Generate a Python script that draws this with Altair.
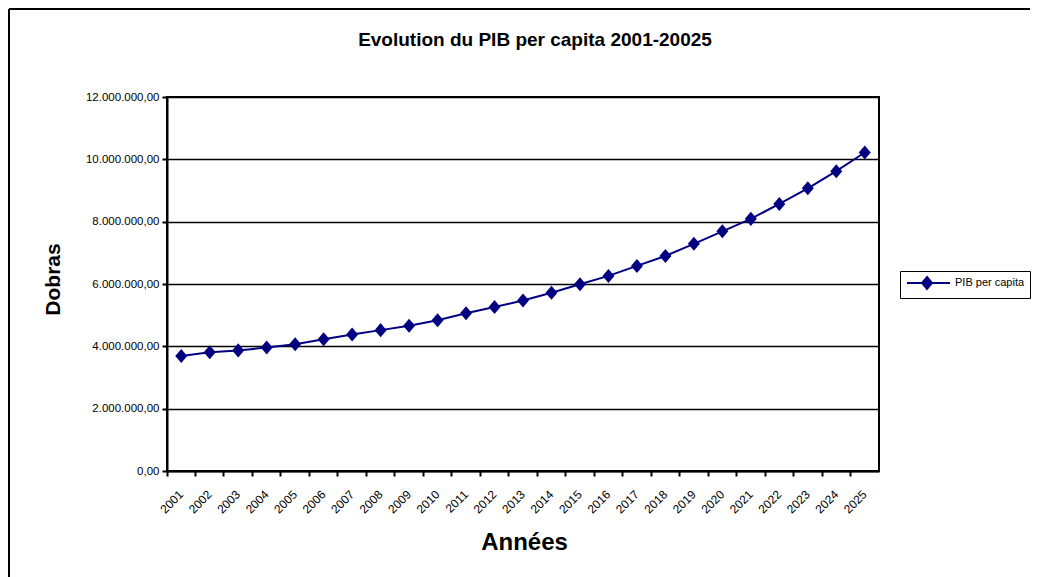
import altair as alt
import pandas as pd

# ---- data ----
years = ["2001", "2002", "2003", "2004", "2005", "2006", "2007", "2008", "2009",
         "2010", "2011", "2012", "2013", "2014", "2015", "2016", "2017", "2018",
         "2019", "2020", "2021", "2022", "2023", "2024", "2025"]
pib = [3690000, 3810000, 3870000, 3960000, 4070000, 4230000, 4380000, 4520000,
       4660000, 4840000, 5060000, 5260000, 5470000, 5720000, 5990000, 6260000,
       6580000, 6900000, 7290000, 7690000, 8090000, 8570000, 9070000, 9620000,
       10220000]
y_ticks = [0, 2000000, 4000000, 6000000, 8000000, 10000000, 12000000]
series_name = "PIB per capita"
chart_title = "Evolution du PIB per capita 2001-20025"
x_title = "Années"
y_title = "Dobras"

FONT = "Liberation Sans"
NAVY = "#000080"
W, H = 712, 374
LEFT, TOP = 159, 89
DIAMOND = "M0,-1.17L1,0L0,1.17L-1,0Z"
LEGEND_SYMBOL = "M-0.83,0L6.33,0M2.5,-1L3.33,0L2.5,1L1.67,0Z"

df = pd.DataFrame({"Annee": years, "PIB": pib, "serie": [series_name] * len(years)})

line = alt.Chart(df).mark_line(
    strokeWidth=2,
    point=alt.OverlayMarkDef(shape=DIAMOND, size=144, filled=True, opacity=1),
).encode(
    x=alt.X("Annee:O",
            scale=alt.Scale(type="band", paddingInner=0, paddingOuter=0),
            axis=alt.Axis(title=x_title, labelAngle=-45, labelAlign="right",
                          labelBaseline="middle", labelPadding=16, bandPosition=0,
                          tickSize=5, tickWidth=2, tickColor="black",
                          domainColor="black", domainWidth=2, grid=False,
                          labelFontSize=12, labelColor="black", labelFont=FONT,
                          titleFontSize=24, titleFontWeight="bold", titleFont=FONT,
                          titleColor="black", titleX=357, titleY=71,
                          titleBaseline="middle", titleAlign="center")),
    y=alt.Y("PIB:Q",
            scale=alt.Scale(domain=[0, 12000000], nice=False, zero=True),
            axis=alt.Axis(values=y_ticks, format=",.2f", title=y_title,
                          tickSize=5, tickWidth=2, tickColor="black",
                          domainColor="black", domainWidth=2,
                          grid=True, gridColor="black", gridWidth=1.5,
                          labelFontSize=11.5, labelColor="black", labelFont=FONT,
                          labelPadding=3,
                          titleFontSize=21, titleFontWeight="bold", titleFont=FONT,
                          titleColor="black", titleX=-114, titleY=182,
                          titleAngle=-90, titleBaseline="middle", titleAlign="center")),
    color=alt.Color("serie:N", scale=alt.Scale(range=[NAVY]),
                    legend=alt.Legend(title=None, orient="none", legendX=733, legendY=174,
                                      strokeColor="black", fillColor="white", padding=5,
                                      symbolType=LEGEND_SYMBOL,
                                      symbolSize=144, symbolStrokeWidth=2,
                                      symbolStrokeColor=NAVY, symbolFillColor=NAVY,
                                      labelFontSize=11, labelFont=FONT, labelColor="black",
                                      labelOffset=36)),
)

frame_src = pd.DataFrame({"k": [0]})
frame_left = alt.Chart(frame_src).mark_rule(color="black", strokeWidth=2).encode(
    x=alt.value(-158), y=alt.value(-88), y2=alt.value(H + 200))
frame_top = alt.Chart(frame_src).mark_rule(color="black", strokeWidth=2).encode(
    x=alt.value(-158), x2=alt.value(W + 151), y=alt.value(-88))

title = alt.Chart(pd.DataFrame({"t": [chart_title]})).mark_text(
    fontSize=19, fontWeight="bold", font=FONT, color="black",
    align="center", baseline="middle"
).encode(text="t:N", x=alt.value(368), y=alt.value(-57))

chart = alt.layer(frame_left, frame_top, line, title).properties(
    width=W, height=H,
    padding={"left": LEFT, "top": TOP, "right": 152, "bottom": 120},
    autosize=alt.AutoSizeParams(type="none"),
).configure(
    font=FONT,
    locale={"number": {"decimal": ",", "thousands": ".", "grouping": [3],
                       "currency": ["", ""]}},
).configure_view(stroke="black", strokeWidth=2)

chart.save("out.html", embed_options={"renderer": "svg", "actions": False})
